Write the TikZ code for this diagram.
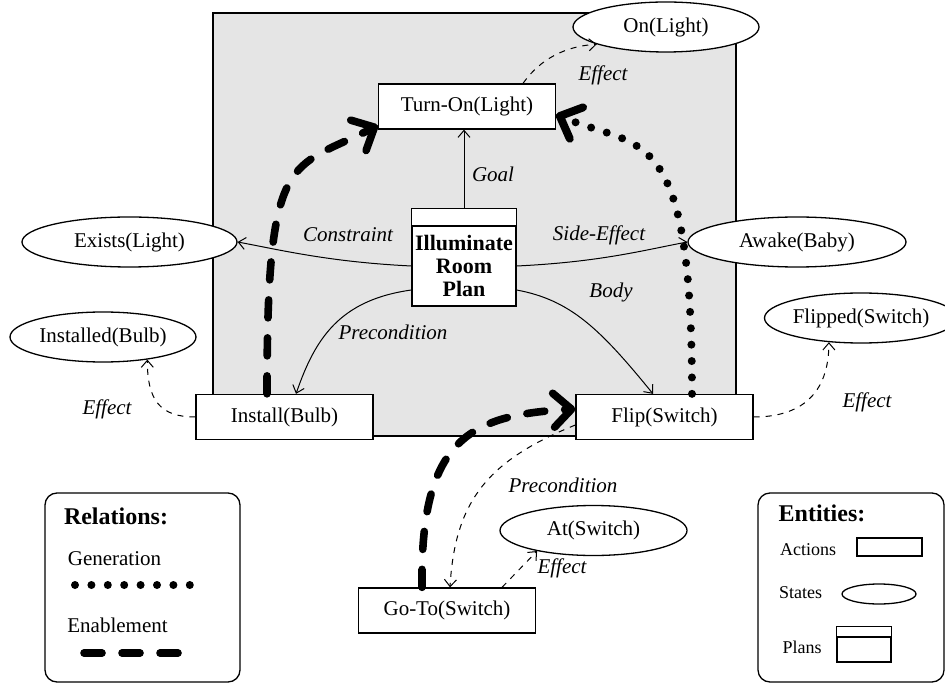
\documentclass[tikz,border=0pt]{standalone}
\usepackage{fontspec}
\setmainfont{Liberation Serif}
\usepackage{tikz}
\usetikzlibrary{arrows.meta,shapes.geometric}

\begin{document}
\fontsize{10.5}{12.5}\selectfont
\begin{tikzpicture}[x=0.5pt,y=-0.5pt,every node/.style={inner sep=0pt},
  action/.style={draw,line width=0.65pt,fill=white,minimum width=88.5pt,minimum height=22.5pt},
  state/.style={draw,ellipse,line width=0.65pt,fill=white,minimum height=25pt},
  rel/.style={font=\itshape},
  link/.style={line width=0.5pt,-{Straight Barb[length=3.5pt,width=6pt]}},
  effect/.style={link,dashed},
  genline/.style={line width=4pt,line cap=round,dash pattern=on 0pt off 8.2pt},
  enabline/.style={line width=3.8pt,line cap=round,dash pattern=on 9pt off 10pt},
  bigtip/.style={-{Straight Barb[round,length=9pt,width=17pt]}},
  legendtitle/.style={font=\fontsize{12}{14}\selectfont\bfseries}]
\useasboundingbox (0,0) rectangle (945,683);
\filldraw[fill=black!10,line width=0.65pt] (213,13) rectangle (736,436);

\node[action] (ton) at (467,106.5) {Turn-On(Light)};
\node[action] (inst) at (284.5,417) {Install(Bulb)};
\node[action] (flip) at (664.5,417) {Flip(Switch)};
\node[action] (goto) at (447,610.5) {Go-To(Switch)};
\node[state,minimum width=93pt] (onl) at (666,27) {On(Light)};
\node[state,minimum width=107.5pt] (exl) at (129.5,242) {Exists(Light)};
\node[state,minimum width=93pt] (inb) at (103,337) {Installed(Bulb)};
\node[state,minimum width=109pt] (awb) at (797,242) {Awake(Baby)};
\node[state,minimum width=90pt] (fls) at (861,318) {Flipped(Switch)};
\node[state,minimum width=93.5pt] (ats) at (593.5,530.5) {At(Switch)};
\node[draw,line width=0.65pt,fill=white,minimum width=52pt,minimum height=40pt,align=center,
  font=\fontsize{11}{11.5}\selectfont\bfseries] (plan) at (464,266) {Illuminate\\Room\\Plan};
\draw[line width=0.65pt,fill=white] (plan.north west) rectangle ([yshift=8.5pt]plan.north east);

\draw[link] ([yshift=8.5pt]plan.north) -- (plan.north |- ton.south);
\draw[link] (plan.west) .. controls +(-82,-4) and +(43,8) .. (exl.east);
\draw[link] (plan.east) .. controls +(84,-4) and +(-43,8) .. (awb.west);
\draw[link] ([yshift=-12pt]plan.west) .. controls +(-72,10) and +(19,-55) .. ([xshift=5.75pt]inst.north);
\draw[link] ([yshift=-12pt]plan.east) .. controls +(54,10) and +(-53,-65) .. ([xshift=-5.75pt]flip.north);
\draw[effect] ([xshift=28pt]ton.north) .. controls +(17,-24) and +(-32,2) .. (onl.194);
\draw[effect] (inst.west) .. controls +(-36,0) and +(0,40) .. (inb.-27);
\draw[effect] (flip.east) .. controls +(47,0) and +(0,52) .. (fls.217);
\draw[effect] ([yshift=-4pt]flip.west) .. controls +(-86,35) and +(5,-88) .. ([xshift=1.5pt]goto.north);
\draw[effect] ([xshift=27.5pt]goto.north) -- (ats.200);
\draw[genline,bigtip] ([xshift=13.75pt]flip.north) .. controls +(0,-275) and +(85,36) .. ([yshift=-4pt]ton.east);
\draw[enabline,bigtip] ([xshift=-8.75pt]inst.north) .. controls +(0,-245) and +(-89,45) .. ([yshift=-9.5pt]ton.west);
\draw[enabline,bigtip] ([xshift=-12.5pt]goto.north) .. controls +(-2,-148) and +(-106,6) .. ([yshift=4pt]flip.west);

\node[rel] (lgoal) at (493,174) {Goal};
\node[rel] (lcons) at (348,235) {Constraint};
\node[rel] (lside) at (599,235) {Side-Effect};
\node[rel] (lpre1) at (393,332) {Precondition};
\node[rel] (lbody) at (611,292) {Body};
\node[rel] (leff1) at (603,75) {Effect};
\node[rel] (leff2) at (107,409) {Effect};
\node[rel] (leff3) at (867,402) {Effect};
\node[rel] (lpre2) at (563,485) {Precondition};
\node[rel] (leff4) at (562,568) {Effect};

\node[draw,rounded corners=6pt,line width=0.65pt,minimum width=97.5pt,minimum height=94.5pt] (relbox) at (142.5,587.5) {};
\node[legendtitle] (reltitle) at (116,516) {Relations:};
\node (lgen) at (114.5,559) {Generation};
\coordinate (gen1) at (75,585);
\coordinate (gen2) at (190,585);
\draw[genline] (gen1) -- (gen2);
\node (lenab) at (117.5,625) {Enablement};
\coordinate (enab1) at (84,653);
\coordinate (enab2) at (178,653);
\draw[enabline] (enab1) -- (enab2);

\node[draw,rounded corners=6pt,line width=0.65pt,minimum width=93pt,minimum height=94.5pt] (entbox) at (851,587.5) {};
\node[legendtitle] (enttitle) at (822,513) {Entities:};
\node[font=\small] (lact) at (808,550) {Actions};
\node[draw,line width=0.65pt,minimum width=32.5pt,minimum height=9pt] (actsample) at (889.5,547) {};
\node[font=\small] (lsta) at (800.5,593) {States};
\node[draw,ellipse,line width=0.65pt,minimum width=37pt,minimum height=10pt] (stasample) at (879,594) {};
\node[font=\small] (lpla) at (802,647) {Plans};
\node[draw,line width=0.65pt,minimum width=27pt,minimum height=12.5pt] (plasample) at (864,649.5) {};
\draw[line width=0.65pt] (plasample.north west) rectangle ([yshift=5pt]plasample.north east);
\end{tikzpicture}
\end{document}
